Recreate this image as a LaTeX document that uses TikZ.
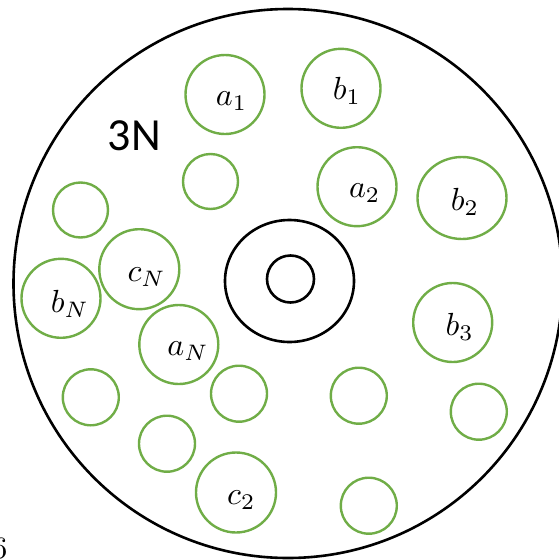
\documentclass[tikz,border=0pt]{standalone}
\usepackage{fontspec}
\newfontfamily\calibri{Carlito}
\usetikzlibrary{shapes.geometric}
\definecolor{ogreen}{RGB}{112,173,71}
\newcommand{\biglab}[1]{\scalebox{3.2}{$#1$}}
\begin{document}
\begin{tikzpicture}[x=1pt,y=-1pt,
  blk/.style={draw=black, line width=2.6pt, inner sep=0pt},
  grn/.style={circle, draw=ogreen, line width=2.4pt, inner sep=0pt},
  big/.style={grn, minimum size=79pt},
  small/.style={grn, minimum size=55pt},
  lbl/.style={inner sep=0pt}]
\useasboundingbox (0,0) rectangle (558,560);
% outer disc and centre rings
\node[blk, circle, minimum size=549pt] (outer) at (288,283.5) {};
\node[blk, ellipse, minimum width=129pt, minimum height=122pt] (ring) at (289.5,281) {};
\node[blk, circle, minimum size=47pt] (hole) at (290.5,279) {};
% labelled green circles
\node[big] (a1) at (225,94.5) {};
\node[big] (b1) at (341,88.3) {};
\node[big] (a2) at (357,186.7) {};
\node[grn, ellipse, minimum width=89pt, minimum height=82pt] (b2) at (462,198) {};
\node[big, minimum size=80pt] (cN) at (139.3,269.2) {};
\node[big] (bN) at (61,298.3) {};
\node[big] (aN) at (178.8,344.5) {};
\node[big, minimum size=80pt] (c2) at (236,492.5) {};
\node[big] (b3) at (452.7,322.5) {};
% unlabelled green circles
\node[small] (u1) at (210.5,181.5) {};
\node[small] (u2) at (80.5,210) {};
\node[small, minimum size=56pt] (u3) at (90.8,397.3) {};
\node[small, minimum size=56pt] (u4) at (239,393.7) {};
\node[small, minimum size=56pt] (u5) at (167,443.7) {};
\node[small, minimum size=56pt] (u6) at (358.8,395.7) {};
\node[small, minimum size=56pt] (u7) at (478.8,411.7) {};
\node[small, minimum size=56pt] (u8) at (368.8,505.7) {};
% labels
\node[lbl] (la1) at (231.5,101) {\biglab{a_1}};
\node[lbl] (lb1) at (347,91) {\biglab{b_1}};
\node[lbl] (la2) at (364.7,193.3) {\biglab{a_2}};
\node[lbl] (lb2) at (465,201.7) {\biglab{b_2}};
\node[lbl] (lb3) at (459.7,327) {\biglab{b_3}};
\node[lbl] (laN) at (188,351.3) {\biglab{a_N}};
\node[lbl] (lbN) at (70,303.8) {\biglab{b_N}};
\node[lbl] (lcN) at (146.7,277.5) {\biglab{c_N}};
\node[lbl] (lc2) at (241.3,500) {\biglab{c_2}};
\node[inner sep=0pt, font=\calibri\fontsize{46}{46}\selectfont] (threeN) at (134.5,135.8) {3N};
\node[inner sep=0pt, anchor=north east] (six) at (7.5,538) {\scalebox{3.1}{6}};
\end{tikzpicture}
\end{document}
